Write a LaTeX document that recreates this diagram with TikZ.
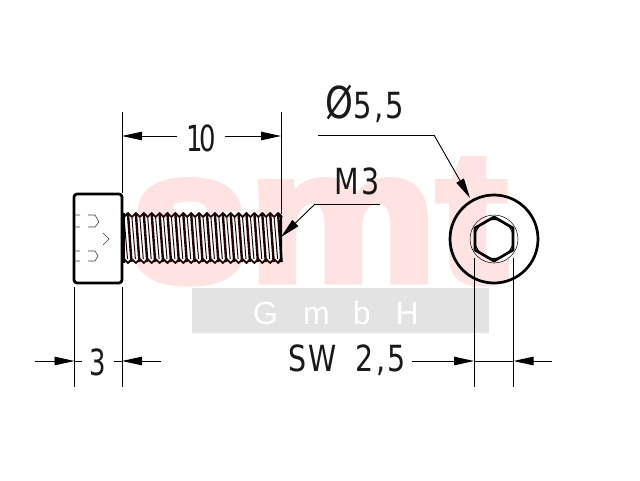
\documentclass[tikz,border=0pt]{standalone}
\usepackage{fontspec}
\setmainfont[LetterSpace=7]{DejaVu Sans}
\newfontfamily\logofont[FakeBold=4]{Liberation Sans Bold}
\newfontfamily\subfont{Liberation Sans}
\usetikzlibrary{arrows.meta}
\definecolor{wmred}{HTML}{FFE3E3}
\definecolor{wmgrey}{HTML}{E3E3E3}
\definecolor{threadcol}{HTML}{1E0404}
\tikzset{
	dimline/.style={line width=.9pt},
	dimarrow/.style={dimline,-{Triangle[length=20pt,width=8.5pt]}},
	thinline/.style={line width=.6pt,black!75},
	bodyline/.style={line width=2.7pt,line join=round},
	dimtext/.style={inner sep=0pt,font=\fontsize{36}{36}\selectfont,xscale=.72,text=black!90},
}
\begin{document}
\begin{tikzpicture}[x=1pt,y=-1pt]

	\useasboundingbox[fill=white]  (0,0) rectangle (640,480);

	% watermark
	\node[inner sep=0pt,anchor=base west,xscale=1.14,text=wmred,font=\logofont\fontsize{186}{186}\selectfont] (logo) at (130,281) {smt};
	\fill[wmgrey]  (192,288) rectangle (489,333);
	\node[inner sep=0pt,anchor=base west,text=white,font=\subfont\fontsize{32}{32}\selectfont] (gmbh) at (253,324) {G\hspace{25pt}m\hspace{23pt}b\hspace{25pt}H};

	% head
	\draw[bodyline,rounded corners=3pt]  (122,194) -- (74,194) -- (74,283) -- (122,283) -- cycle;
	\draw[thinline]  (75,215) -- (80,215)  (88,215) -- (95,215) -- (99,222) -- (95,227) -- (88,227)  (80,227) -- (75,227);
	\draw[thinline]  (75,251) -- (80,251)  (88,251) -- (95,251) -- (98,256) -- (95,261) -- (88,261)  (80,261) -- (75,261);
	\draw[thinline]  (103,233) -- (109,239) -- (103,245);

	% thread
	\fill[white]  (123,215) rectangle (280,261);
	\foreach \i in {0,...,19} {
		\pgfmathsetmacro{\xa}{124+7.9*\i}
		\draw[line width=1.8pt,line join=round,threadcol]  (\xa,217) -- (\xa+4,213) -- (\xa+7.9,217);
		\draw[line width=1.8pt,line join=round,threadcol]  (\xa,259) -- (\xa+4,263) -- (\xa+7.9,259);
		\draw[line width=2.4pt,threadcol]  (\xa+4,214) -- (\xa+7.5,262);
		\draw[line width=1pt,threadcol]  (\xa,217) -- (\xa+3.5,259);
	}
	\draw[line width=2.4pt]  (279,214) -- (281,217) -- (281,259) -- (279,262);
	\draw[line width=3.4pt]  (123,213) -- (123,263);

	% end view
	\coordinate (c) at (494,239);
	\draw[bodyline]  (c) circle (44);
	\draw[line width=.5pt]  (c) circle (24);
	\draw[line width=1pt]  (c) circle (19.5);
	\draw[bodyline]  (494,217) -- (513,228) -- (513,250) -- (494,261) -- (475,250) -- (475,228) -- cycle;

	% 10
	\node[dimtext] (len) at (201,138) {1\kern-5pt 0};
	\coordinate (lena) at (122,136);
	\coordinate (lenb) at (281,136);
	\draw[dimline]  (122,112) -- (122,193);
	\draw[dimline]  (281,112) -- (281,214);
	\draw[dimarrow]  (len.west) ++(-9,-2) -- (lena);
	\draw[dimarrow]  (len.east) ++(9,-2) -- (lenb);

	% 3
	\node[dimtext] (head) at (98,362) {3};
	\draw[dimline]  (74.5,287) -- (74.5,387);
	\draw[dimline]  (122,287) -- (122,387);
	\coordinate (heada) at (74.5,361);
	\coordinate (headb) at (122,361);
	\draw[dimarrow]  (35,361) -- (heada);
	\draw[dimarrow]  (161,361) -- (headb);
	\draw[dimline]  (heada) -- (82,361);
	\draw[dimline]  (headb) -- (114,361);

	% SW
	\node[dimtext,xscale=1.1] (sw) at (347,360) {SW\hspace{10pt} 2,5};
	\draw[dimline]  (474,258) -- (474,387);
	\draw[dimline]  (513.5,258) -- (513.5,387);
	\coordinate (swa) at (474,361);
	\coordinate (swb) at (513.5,361);
	\draw[dimarrow]  (412,361) -- (swa);
	\draw[dimarrow]  (552,361) -- (swb);
	\draw[dimline]  (swa) -- (swb);

	% M3
	\node[dimtext,xscale=1.1] (thr) at (357,181) {M3};
	\coordinate (thra) at (380,204);
	\coordinate (thrb) at (315,204);
	\coordinate (thrc) at (281,237);
	\draw[dimline]  (thra) -- (thrb);
	\draw[dimarrow]  (thrb) -- (thrc);

	% diameter
	\node[dimtext,xscale=1.12] (dia) at (365,104) {{\fontsize{44}{44}\selectfont Ø}5,5};
	\coordinate (diaa) at (318,135);
	\coordinate (diab) at (434,135);
	\coordinate (diac) at (470,198);
	\draw[dimline]  (diaa) -- (diab);
	\draw[dimarrow]  (diab) -- (diac);
\end{tikzpicture}
\end{document}
